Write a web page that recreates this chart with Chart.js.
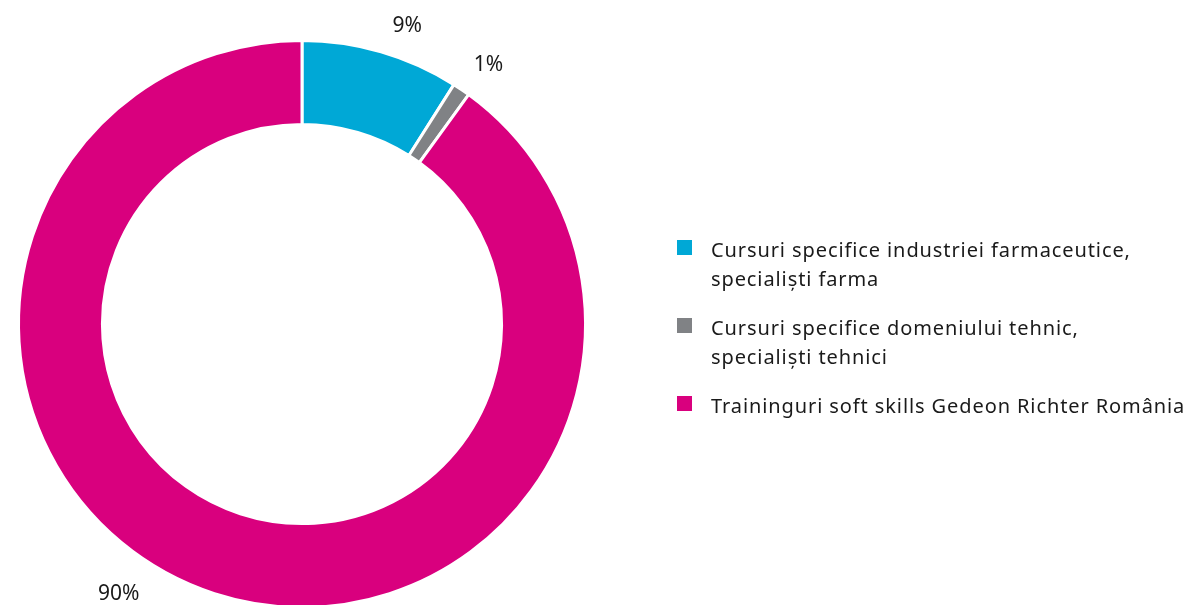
<!DOCTYPE html>
<html>
<head>
<meta charset="utf-8">
<script src="https://cdn.jsdelivr.net/npm/chart.js@4/dist/chart.umd.min.js"></script>
<style>
  html, body { margin: 0; padding: 0; background: #fff; overflow: hidden; }
  #wrap { width: 1201px; height: 605px; overflow: hidden; }
  canvas { display: block; }
</style>
</head>
<body>
<div id="wrap"><canvas id="c" width="1201" height="650"></canvas></div>
<script>
const categories = [
  ["Cursuri specifice industriei farmaceutice,", "specialiști farma"],
  ["Cursuri specifice domeniului tehnic,", "specialiști tehnici"],
  ["Traininguri soft skills Gedeon Richter România"],
]
const values = [9, 1, 90]
const colors = ["#00a8d6", "#808285", "#d9007e"]

const FONT = '"Noto Sans", "Open Sans", sans-serif'

// where each % label sits: fraction along its slice, distance from centre
const labelSpots = [
  { frac: 0.6,  r: 316 },
  { frac: 0.94, r: 319 },
  { frac: 0.55, r: 326 },
]

const pctLabels = {
  id: 'pctLabels',
  afterDatasetsDraw(chart) {
    const { ctx } = chart
    const meta = chart.getDatasetMeta(0)
    const total = values.reduce((a, b) => a + b, 0)
    ctx.save()
    ctx.font = `21px ${FONT}`
    ctx.fillStyle = '#1a1a1a'
    ctx.textAlign = 'center'
    ctx.textBaseline = 'middle'
    meta.data.forEach((arc, i) => {
      const spot = labelSpots[i]
      const a = arc.startAngle + spot.frac * (arc.endAngle - arc.startAngle)
      const x = arc.x + spot.r * Math.cos(a)
      const y = arc.y + spot.r * Math.sin(a)
      ctx.fillText(Math.round(values[i] / total * 100) + '%', x, y)
    })
    ctx.restore()
  }
}

const sideLegend = {
  id: 'sideLegend',
  afterDraw(chart) {
    const { ctx } = chart
    const arc = chart.getDatasetMeta(0).data[0]
    const x = 677
    const lineH = 29, gap = 20
    let y = arc.y - 67   // baseline of first line
    ctx.save()
    ctx.font = `20px ${FONT}`
    ctx.letterSpacing = '0.9px'
    ctx.textBaseline = 'alphabetic'
    ctx.textAlign = 'left'
    chart.data.labels.forEach((lines, i) => {
      ctx.fillStyle = chart.data.datasets[0].backgroundColor[i]
      ctx.fillRect(x, y - 17, 15, 15)
      ctx.fillStyle = '#1a1a1a'
      lines.forEach((t, j) => ctx.fillText(t, x + 34, y + j * lineH))
      y += lines.length * lineH + gap
    })
    ctx.restore()
  }
}

new Chart(document.getElementById('c'), {
  type: 'doughnut',
  data: {
    labels: categories,
    datasets: [{
      data: values,
      backgroundColor: colors,
      borderColor: '#fff',
      borderWidth: 3,
    }],
  },
  options: {
    responsive: false,
    animation: false,
    cutout: '70.4%',
    layout: { padding: { left: 17, top: 39, right: 614, bottom: 41 } },
    plugins: {
      legend: { display: false },
      tooltip: { enabled: false },
    },
  },
  plugins: [pctLabels, sideLegend],
})
</script>
</body>
</html>
